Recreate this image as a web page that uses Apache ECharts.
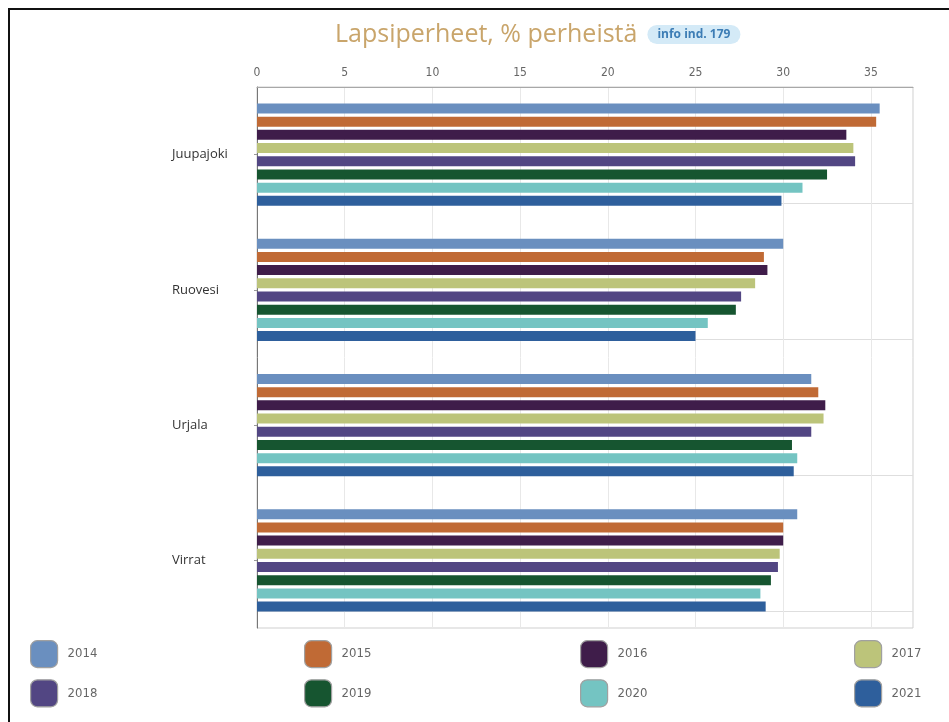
<!DOCTYPE html>
<html>
<head>
<meta charset="utf-8">
<script src="https://cdn.jsdelivr.net/npm/echarts@6/dist/echarts.min.js"></script>
<style>html,body{margin:0;padding:0;background:#fff;}#c{width:949px;height:722px;}</style>
</head>
<body>
<div id="c"></div>
<script>
const categories = ['Juupajoki', 'Ruovesi', 'Urjala', 'Virrat'];
const years = ['2014', '2015', '2016', '2017', '2018', '2019', '2020', '2021'];
const colors = ['#6a8fbf', '#c06a35', '#3f1d4a', '#bcc47a', '#524683', '#165530', '#74c4c2', '#2e5f9c'];
const v2014 = [35.5, 30.0, 31.6, 30.8];
const v2015 = [35.3, 28.9, 32.0, 30.0];
const v2016 = [33.6, 29.1, 32.4, 30.0];
const v2017 = [34.0, 28.4, 32.3, 29.8];
const v2018 = [34.1, 27.6, 31.6, 29.7];
const v2019 = [32.5, 27.3, 30.5, 29.3];
const v2020 = [31.1, 25.7, 30.8, 28.7];
const v2021 = [29.9, 25.0, 30.6, 29.0];
const xTicks = [0, 5, 10, 15, 20, 25, 30, 35];
const values = [v2014, v2015, v2016, v2017, v2018, v2019, v2020, v2021];

const chart = echarts.init(document.getElementById('c'));
const series = years.map((y, i) => ({
  name: y, type: 'bar', xAxisIndex: 0, yAxisIndex: 0,
  data: values[i], barWidth: 10, barGap: '32%',
  itemStyle: { color: colors[i] }
}));
const legendCols = [[0, 4], [1, 5], [2, 6], [3, 7]];
const legendLeft = [30, 304, 580, 854];
const legends = legendCols.map((pair, k) => ({
  orient: 'vertical', left: legendLeft[k], top: 640, padding: 0,
  data: pair.map(i => years[i]),
  icon: 'roundRect', itemWidth: 27, itemHeight: 27, itemGap: 11,
  itemStyle: { borderColor: '#a0a0a0', borderWidth: 1.2 },
  textStyle: { color: '#666', fontSize: 13, fontFamily: 'DejaVu Sans Condensed, DejaVu Sans', padding: [0, 0, 0, 5] },
  selectedMode: false
}));
chart.setOption({
  animation: false,
  title: {
    left: 335, top: 22, padding: 0,
    text: '{t|Lapsiperheet, % perheistä}{s| }{b|info ind. 179}',
    textStyle: {
      rich: {
        t: { fontFamily: 'Open Sans', fontSize: 25, fontWeight: 'normal', color: '#c9a56b' },
        s: { width: 10 },
        b: { fontFamily: 'Open Sans', fontSize: 12, fontWeight: 'bold', color: '#3d7db5', backgroundColor: '#d4eaf7', borderRadius: 10, padding: [4, 10, 3, 10] }
      }
    }
  },
  legend: legends,
  graphic: [{
    type: 'rect', shape: { x: 9, y: 9, width: 1000, height: 800 },
    style: { fill: 'none', stroke: '#111', lineWidth: 2 }, silent: true
  }],
  grid: [
    { left: 257, right: 36, top: 87, bottom: 94, show: true, borderColor: '#cfcfcf', borderWidth: 1 },
    { left: 257, right: 36, top: 203, bottom: 111 }
  ],
  xAxis: [{
    type: 'value', gridIndex: 0, position: 'top', min: 0, max: 37.4, interval: 5,
    axisLine: { show: true, lineStyle: { color: '#a8a8a8' } },
    axisTick: { show: false },
    axisLabel: { color: '#666', fontSize: 12, fontFamily: 'DejaVu Sans Condensed, DejaVu Sans', margin: 8,
      formatter: v => xTicks.includes(v) ? String(v) : '' },
    splitLine: { show: true, lineStyle: { color: '#e8e8e8' } }
  }, {
    type: 'value', gridIndex: 1, min: 0, max: 1, show: false
  }],
  yAxis: [{
    type: 'category', gridIndex: 0, data: categories, inverse: true,
    axisLine: { show: true, lineStyle: { color: '#777' } },
    axisTick: { show: true, alignWithLabel: true, length: 3, lineStyle: { color: '#999' } },
    axisLabel: { color: '#333', fontSize: 13, fontFamily: 'Open Sans', align: 'left', margin: 85, padding: [9, 0, 0, 0] },
    splitLine: { show: false }
  }, {
    type: 'value', gridIndex: 1, min: 0, max: 3, interval: 1,
    axisLine: { show: false }, axisTick: { show: false }, axisLabel: { show: false },
    splitLine: { show: true, lineStyle: { color: '#dedede' } }
  }],
  series: series
});
</script>
</body>
</html>
